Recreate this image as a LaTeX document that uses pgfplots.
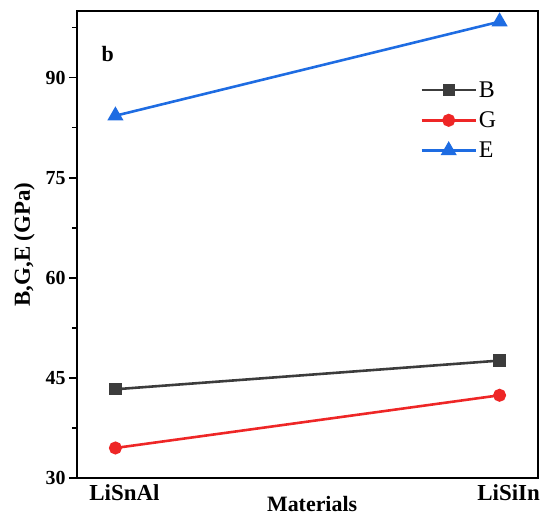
\documentclass[border=0pt]{standalone}
\usepackage{fontspec}
\setmainfont{Liberation Serif}
\usepackage{pgfplots}
\pgfplotsset{compat=1.18}
\definecolor{cB}{RGB}{60,60,60}
\definecolor{cG}{RGB}{238,38,38}
\definecolor{cE}{RGB}{30,108,226}
\begin{document}
\begin{tikzpicture}
\useasboundingbox (-77bp,-39bp) rectangle (466bp,478bp);
\begin{axis}[
  at={(0,0)}, anchor=south west,
  scale only axis, width=461bp, height=467bp,
  xmin=-0.1, xmax=1.1, ymin=30, ymax=100,
  xtick=\empty,
  extra x ticks={0,1}, extra x tick labels={LiSnAl,LiSiIn},
  extra x tick style={major tick length=0pt, tick style={draw=none},
    xticklabel style={font=\fontsize{23}{25}\selectfont\bfseries, xshift=9bp, yshift=-3bp}},
  ytick={30,45,60,75,90},
  minor ytick={37.5,52.5,67.5,82.5,97.5},
  ytick pos=left,
  tick align=outside,
  major tick length=8bp, minor tick length=5bp,
  tick style={black, line width=1.5pt},
  yticklabel style={font=\fontsize{20}{22}\selectfont\bfseries},
  /pgf/number format/assume math mode=true,
  axis line style={line width=1.5pt},
  xlabel={Materials},
  xlabel style={font=\fontsize{22}{24}\selectfont\bfseries, at={(axis description cs:0.51,0)}, anchor=north, yshift=-15bp},
  ylabel={B,G,E (GPa)},
  ylabel style={font=\fontsize{23}{25}\selectfont\bfseries, yshift=4bp},
  legend style={draw=none, fill=none, at={(0.738,0.858)}, anchor=north west,
    font=\fontsize{24}{26}\selectfont, row sep=9bp},
  legend cell align=left,
  legend image code/.code={\draw[mark repeat=2,mark phase=2,#1] plot coordinates {(0bp,0bp) (27bp,0bp) (54bp,0bp)};},
]
\addplot[cB, line width=2.6pt, mark=square*, mark size=4.8bp] coordinates {(0,43.3) (1,47.6)};
\addlegendentry{B}
\addplot[cG, line width=2.6pt, mark=*, mark size=5.2bp] coordinates {(0,34.5) (1,42.4)};
\addlegendentry{G}
\addplot[cE, line width=2.6pt, mark=triangle*, mark size=6.8bp] coordinates {(0,84.3) (1,98.4)};
\addlegendentry{E}
\node[font=\fontsize{22}{24}\selectfont\bfseries] at (axis cs:-0.02,93.5) {b};
\end{axis}
\end{tikzpicture}
\end{document}
